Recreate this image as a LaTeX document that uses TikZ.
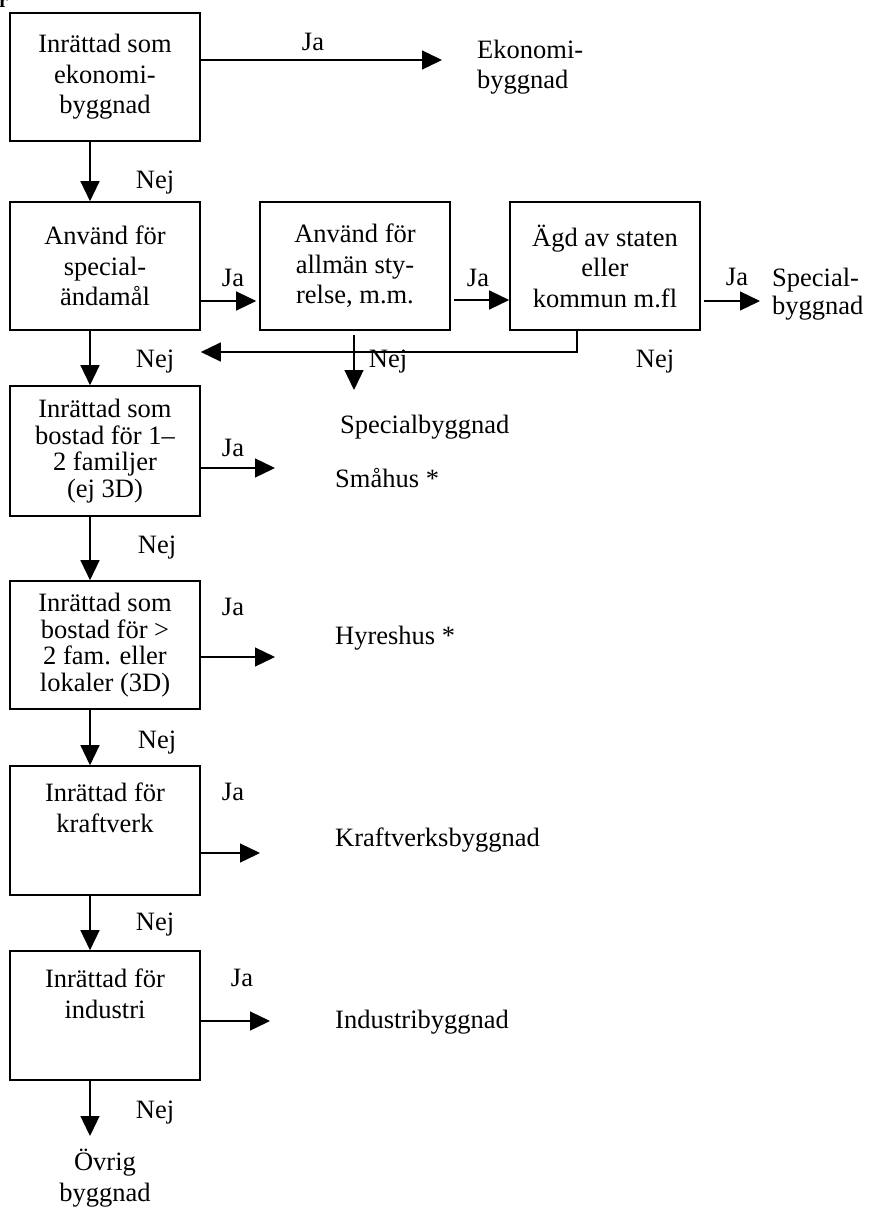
\documentclass[tikz,border=0pt]{standalone}
\usepackage{fontspec}
\setmainfont{Liberation Serif}
\usetikzlibrary{arrows.meta}
\tikzset{
 box/.style={draw, line width=1.6pt, minimum width=190pt, minimum height=128pt, inner sep=0pt, align=center, font=\fontsize{26.5}{30.5}\selectfont},
 boxfour/.style={box, font=\fontsize{26.5}{26.5}\selectfont},
 txt/.style={inner sep=0pt, font=\fontsize{26.5}{30.5}\selectfont},
 arr/.style={line width=1.3pt, -{Triangle[length=20pt,width=19pt]}},
 lbl/.style={inner sep=0pt, font=\fontsize{26.5}{30}\selectfont},
}
\begin{document}
\begin{tikzpicture}[x=1pt,y=-1pt]
\useasboundingbox (0,0) rectangle (875,1207);
% stray glyph at top-left
\node[inner sep=0pt, anchor=base west, font=\bfseries\fontsize{20}{20}\selectfont] (r) at (-1,8) {r};

% boxes
\node[box] (b1) at (105,77) {Inrättad som\\ekonomi-\\byggnad};
\node[box] (b2) at (105,266) {Använd för\\special-\\ändamål};
\node[box] (b3) at (355,266) {Använd för\\allmän sty-\\relse, m.m.};
\node[box] (b4) at (605,266) {Ägd av staten\\eller\\kommun m.fl};
\node[boxfour, minimum height=130pt] (b5) at (105,451) {Inrättad som\\bostad för 1–\\2 familjer\\(ej 3D)};
\node[boxfour] (b6) at (105,645) {Inrättad som\\bostad för >\\2 fam. eller\\lokaler (3D)};
\node[box, minimum height=129pt] (b7) at (105,830.5) {};
\node[txt, align=center] (t7) at (105,808) {Inrättad för\\kraftverk};
\node[box, minimum height=129pt] (b8) at (105,1015.5) {};
\node[txt, align=center] (t8) at (105,994) {Inrättad för\\industri};

% outcome texts
\node[txt, align=left, anchor=west] (ek) at (477,67) {Ekonomi-\\byggnad};
\node[txt, align=left, anchor=west, font=\fontsize{26.5}{27.5}\selectfont] (sp1) at (772,294) {Special-\\byggnad};
\node[txt, anchor=west] (sp2) at (340,427) {Specialbyggnad};
\node[txt, anchor=west] (sma) at (335,478) {Småhus *};
\node[txt, anchor=west] (hyr) at (335,638) {Hyreshus *};
\node[txt, anchor=west] (kra) at (335,840) {Kraftverksbyggnad};
\node[txt, anchor=west] (ind) at (335,1022) {Industribyggnad};
\node[txt, align=center] (ovr) at (105,1178) {Övrig\\byggnad};

% Ja / Nej labels
\node[lbl] (ja1) at (313,42) {Ja};
\node[lbl] (ja2) at (233,278) {Ja};
\node[lbl] (ja3) at (478,278) {Ja};
\node[lbl] (ja4) at (737,277) {Ja};
\node[lbl] (ja5) at (233,448) {Ja};
\node[lbl] (ja6) at (233,607) {Ja};
\node[lbl] (ja7) at (233,792) {Ja};
\node[lbl] (ja8) at (242,978) {Ja};
\node[lbl] (nej1) at (155,183) {Nej};
\node[lbl] (nej2) at (155,362) {Nej};
\node[lbl] (nej3) at (388,362) {Nej};
\node[lbl] (nej4) at (655,362) {Nej};
\node[lbl] (nej5) at (157,548) {Nej};
\node[lbl] (nej6) at (157,743) {Nej};
\node[lbl] (nej7) at (155,925) {Nej};
\node[lbl] (nej8) at (155,1113) {Nej};

% coordinates for free ends
\coordinate (e1) at (442,60);
\coordinate (e3) at (354,390);
\coordinate (e4) at (760,301);
\coordinate (e5) at (275,468);
\coordinate (e6) at (275,657);
\coordinate (e7) at (260,853);
\coordinate (e8) at (270,1021);
\coordinate (e9) at (90,1136);
\coordinate (fb) at (577,352);

% connectors
\draw[arr] (b1.east |- e1) -- (e1);
\draw[arr] ([xshift=-15pt]b1.south) -- ([xshift=-15pt]b2.north);
\draw[arr, shorten >=3pt] (b2.east |- 0,301) -- (b3.west |- 0,301);
\draw[arr, shorten <=3pt] (b3.east |- 0,300) -- (b4.west |- 0,300);
\draw[arr, shorten <=3pt] (b4.east |- e4) -- (e4);
\draw[arr] (b4.south -| fb) -- (fb) -- (b2.east |- fb);
\draw[arr] (e3 |- 0,335) -- (e3);
\draw[arr] ([xshift=-15pt]b2.south) -- ([xshift=-15pt]b5.north);
\draw[arr] (b5.east |- e5) -- (e5);
\draw[arr] ([xshift=-15pt]b5.south) -- ([xshift=-15pt]b6.north);
\draw[arr] (b6.east |- e6) -- (e6);
\draw[arr] ([xshift=-15pt]b6.south) -- ([xshift=-15pt]b7.north);
\draw[arr] (b7.east |- e7) -- (e7);
\draw[arr] ([xshift=-15pt]b7.south) -- ([xshift=-15pt]b8.north);
\draw[arr] (b8.east |- e8) -- (e8);
\draw[arr] ([xshift=-15pt]b8.south) -- (e9);
\end{tikzpicture}
\end{document}
